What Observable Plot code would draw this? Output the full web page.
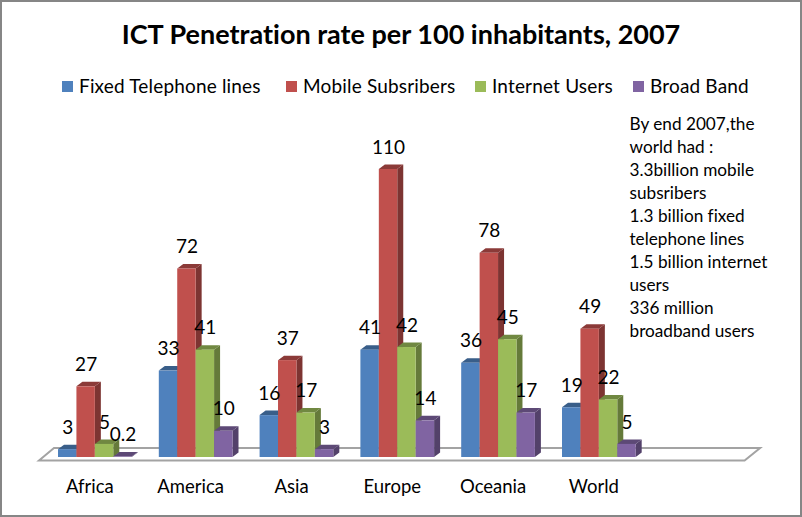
<!DOCTYPE html>
<html>
<head>
<meta charset="utf-8">
<script src="https://cdn.jsdelivr.net/npm/d3@7"></script>
<script src="https://cdn.jsdelivr.net/npm/@observablehq/plot@0.6"></script>
<style>
  html, body { margin: 0; padding: 0; background: #fff; }
  #chart { position: relative; width: 802px; height: 517px; overflow: hidden; font-family: Lato, sans-serif; color: #000; font-variant-ligatures: none; }
  #chart::after { content: ""; position: absolute; inset: 0; border: 2px solid #868686; pointer-events: none; }
  #title { margin: 0; padding-top: 17px; height: 34px; padding-bottom: 9px; line-height: 34px; font-size: 27px; font-weight: 700; text-align: center; }
  #legend { position: relative; height: 44px; font-size: 19px; letter-spacing: 0.17px; }
  #legend .sw { position: absolute; top: 21px; width: 11px; height: 11px; }
  #legend .lb { position: absolute; top: 14px; line-height: 24px; white-space: nowrap; }
  svg { display: block; }
</style>
</head>
<body>
<div id="chart">
  <h1 id="title"></h1>
  <div id="legend"></div>
</div>
<script>
const titleText = "ICT Penetration rate per 100 inhabitants, 2007";
const continents = ["Africa", "America", "Asia", "Europe", "Oceania", "World"];
const seriesNames = ["Fixed Telephone lines", "Mobile Subsribers", "Internet Users", "Broad Band"];
const seriesColors = ["#4f81bd", "#c0504d", "#9bbb59", "#8064a2"];
const fixedLines = [3, 33, 16, 41, 36, 19];
const mobile = [27, 72, 37, 110, 78, 49];
const internet = [5, 41, 17, 42, 45, 22];
const broadband = [0.2, 10, 3, 14, 17, 5];
const noteText = "By end 2007,the\nworld had :\n3.3billion mobile\nsubsribers\n1.3 billion fixed\ntelephone lines\n1.5 billion internet\nusers\n336 million\nbroadband users";
const legendSwatchLeft = [62, 286, 475, 633];
const legendLabelLeft = [79, 303, 492, 650];

const seriesValues = [fixedLines, mobile, internet, broadband];
const rows = continents.flatMap((c, i) =>
  seriesNames.map((s, j) => ({continent: c, series: s, value: seriesValues[j][i]}))
);

document.getElementById("title").textContent = titleText;
const legend = d3.select("#legend");
seriesNames.forEach((s, j) => {
  legend.append("div").attr("class", "sw").style("left", legendSwatchLeft[j] + "px").style("background", seriesColors[j]);
  legend.append("div").attr("class", "lb").style("left", legendLabelLeft[j] + "px").text(s);
});

const SVGNS = "http://www.w3.org/2000/svg";
function poly(points, fill) {
  const p = document.createElementNS(SVGNS, "polygon");
  p.setAttribute("points", points.map(d => d.join(",")).join(" "));
  p.setAttribute("fill", fill);
  return p;
}

// extruded look: every bar gets a side and a top face, drawn just before its front
function extrude(index, scales, values, dimensions, context, next) {
  const g = next(index, scales, values, dimensions, context);
  const dx = 6, dy = 4.5;
  for (const rect of Array.from(g.querySelectorAll("rect"))) {
    const x = +rect.getAttribute("x"), y = +rect.getAttribute("y");
    const w = +rect.getAttribute("width"), h = +rect.getAttribute("height");
    const c = d3.color(rect.getAttribute("fill"));
    const parent = rect.parentNode;
    parent.insertBefore(poly([[x + w, y], [x + w + dx, y - dy], [x + w + dx, y + h - dy], [x + w, y + h]], c.darker(1.2).formatHex()), rect);
    parent.insertBefore(poly([[x, y], [x + dx, y - dy], [x + w + dx, y - dy], [x + w, y]], c.darker(0.9).formatHex()), rect);
  }
  return g;
}

// floor of the 3D plot box, derived from the plot's frame and the zero of y
function floor(index, scales, values, dimensions) {
  const y0 = scales.y(0);
  const l = dimensions.marginLeft, r = dimensions.width - dimensions.marginRight;
  const p = poly([[l, y0 + 3.5], [l + 15, y0 - 9], [r + 15.5, y0 - 9], [r, y0 + 3.5]], "#ffffff");
  p.setAttribute("stroke", "#a3a3a3");
  p.setAttribute("stroke-width", 2);
  return p;
}

const plot = Plot.plot({
  width: 802,
  height: 413,
  marginLeft: 39,
  marginRight: 57.4,
  marginTop: 0,
  marginBottom: 60,
  style: {fontFamily: "Lato, sans-serif", background: "transparent", color: "#000", overflow: "visible", fontVariantLigatures: "none"},
  fx: {domain: [...continents, ""], padding: 0, round: false, label: null},
  x: {domain: seriesNames, range: [58, 131.7], padding: 0, round: false, axis: null},
  y: {domain: [0, 110], range: [353, 65], axis: null},
  color: {domain: seriesNames, range: seriesColors},
  marks: [
    Plot.frame({facet: "super", render: floor}),
    Plot.barY(rows, {fx: "continent", x: "series", y: "value", fill: "series", render: extrude}),
    Plot.text(rows, {fx: "continent", x: "series", y: "value", text: d => String(d.value), dy: -22, fontSize: 19, fill: "#000"}),
    Plot.axisFx({anchor: "bottom", tickSize: 0, tickPadding: 22, fontSize: 18.5, label: null, tickFormat: d => d}),
    Plot.text([noteText], {facet: "super", frameAnchor: "top-left", textAnchor: "start", lineAnchor: "top", dx: 590, dy: 9, fontSize: 17.2, lineHeight: 1.337, fill: "#000"})
  ]
});
document.getElementById("chart").appendChild(plot);
</script>
</body>
</html>
